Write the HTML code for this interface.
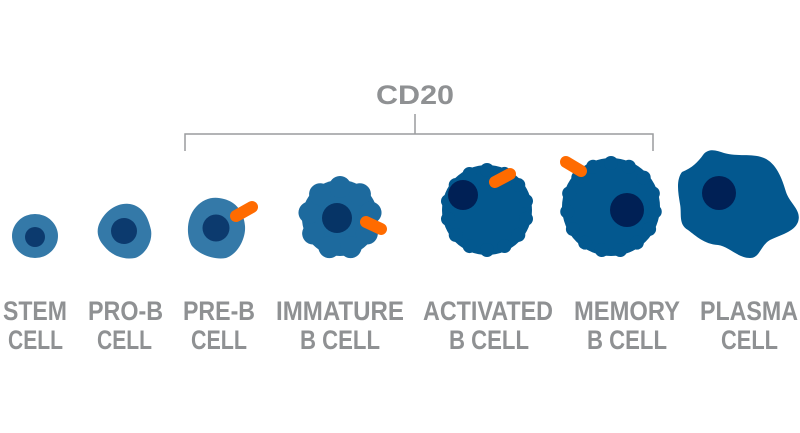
<!DOCTYPE html>
<html><head><style>html,body{margin:0;padding:0;background:#fff;width:800px;height:433px;overflow:hidden}</style></head>
<body>
<svg width="800" height="433" viewBox="0 0 800 433" xmlns="http://www.w3.org/2000/svg">
<g font-family="'Liberation Sans Narrow','Liberation Sans',sans-serif" font-weight="bold" fill="#8f9193" font-size="27">
<text x="376" y="104" textLength="78" lengthAdjust="spacingAndGlyphs">CD20</text>
<text x="3" y="320" textLength="64" lengthAdjust="spacingAndGlyphs">STEM</text>
<text x="8" y="349" textLength="55" lengthAdjust="spacingAndGlyphs">CELL</text>
<text x="88" y="320" textLength="75" lengthAdjust="spacingAndGlyphs">PRO-B</text>
<text x="97" y="349" textLength="55" lengthAdjust="spacingAndGlyphs">CELL</text>
<text x="183" y="320" textLength="72" lengthAdjust="spacingAndGlyphs">PRE-B</text>
<text x="191" y="349" textLength="56" lengthAdjust="spacingAndGlyphs">CELL</text>
<text x="276" y="320" textLength="128" lengthAdjust="spacingAndGlyphs">IMMATURE</text>
<text x="300" y="349" textLength="80" lengthAdjust="spacingAndGlyphs">B CELL</text>
<text x="423" y="320" textLength="130" lengthAdjust="spacingAndGlyphs">ACTIVATED</text>
<text x="449" y="349" textLength="80" lengthAdjust="spacingAndGlyphs">B CELL</text>
<text x="574" y="320" textLength="106" lengthAdjust="spacingAndGlyphs">MEMORY</text>
<text x="587" y="349" textLength="80" lengthAdjust="spacingAndGlyphs">B CELL</text>
<text x="700" y="320" textLength="98" lengthAdjust="spacingAndGlyphs">PLASMA</text>
<text x="721" y="349" textLength="57" lengthAdjust="spacingAndGlyphs">CELL</text>
</g>
<path d="M185,151 V134 H653 V151 M415,134 V114" fill="none" stroke="#9a9c9e" stroke-width="1.5"/>
<!-- stem -->
<ellipse cx="35" cy="236" rx="23" ry="22" fill="#3479a8"/>
<circle cx="35" cy="237" r="10" fill="#0c3a6e"/>
<!-- pro-b -->
<path d="M100,222 C106,210 118,202 130,204 C142,206 148,216 151,230 C153,242 145,255 135,258 C124,260 112,256 104,246 C97,238 96,230 100,222Z" fill="#3479a8"/>
<circle cx="124" cy="231" r="13" fill="#0c3a6e"/>
<!-- pre-b -->
<path d="M196,207 C204,198 214,196 224,199 C236,202 244,212 245,226 C246,238 238,254 226,258 C214,260 200,255 192,246 C186,236 186,218 196,207Z" fill="#3479a8"/>
<circle cx="216" cy="228" r="13.5" fill="#0c3a6e"/>
<line x1="236" y1="216" x2="252" y2="207" stroke="#ff6b00" stroke-width="12" stroke-linecap="round"/>
<!-- immature -->
<g transform="translate(340,218)" fill="#1d6a9e">
<circle r="38"/>
<g id="b1"><circle cx="0" cy="-31" r="11"/></g>
<use href="#b1" transform="rotate(40)"/><use href="#b1" transform="rotate(80)"/><use href="#b1" transform="rotate(120)"/><use href="#b1" transform="rotate(160)"/><use href="#b1" transform="rotate(200)"/><use href="#b1" transform="rotate(240)"/><use href="#b1" transform="rotate(280)"/><use href="#b1" transform="rotate(320)"/>
</g>
<circle cx="337" cy="218" r="15" fill="#063466"/>
<line x1="366" y1="222" x2="381" y2="229" stroke="#ff6b00" stroke-width="12" stroke-linecap="round"/>
<!-- activated -->
<g transform="translate(487,210)" fill="#03588f">
<circle r="45"/>
<g id="b2"><circle cx="0" cy="-40" r="7"/></g>
<use href="#b2" transform="rotate(25.7)"/><use href="#b2" transform="rotate(51.4)"/><use href="#b2" transform="rotate(77.1)"/><use href="#b2" transform="rotate(102.8)"/><use href="#b2" transform="rotate(128.5)"/><use href="#b2" transform="rotate(154.2)"/><use href="#b2" transform="rotate(180)"/><use href="#b2" transform="rotate(205.7)"/><use href="#b2" transform="rotate(231.4)"/><use href="#b2" transform="rotate(257.1)"/><use href="#b2" transform="rotate(282.8)"/><use href="#b2" transform="rotate(308.5)"/><use href="#b2" transform="rotate(334.2)"/>
</g>
<circle cx="463" cy="195" r="15" fill="#002055"/>
<line x1="495" y1="182" x2="510" y2="174" stroke="#ff6b00" stroke-width="12" stroke-linecap="round"/>
<!-- memory -->
<g transform="translate(611,207)" fill="#03588f">
<circle r="49"/>
<g id="b3"><circle cx="0" cy="-44" r="7"/></g>
<use href="#b3" transform="rotate(24)"/><use href="#b3" transform="rotate(48)"/><use href="#b3" transform="rotate(72)"/><use href="#b3" transform="rotate(96)"/><use href="#b3" transform="rotate(120)"/><use href="#b3" transform="rotate(144)"/><use href="#b3" transform="rotate(168)"/><use href="#b3" transform="rotate(192)"/><use href="#b3" transform="rotate(216)"/><use href="#b3" transform="rotate(240)"/><use href="#b3" transform="rotate(264)"/><use href="#b3" transform="rotate(288)"/><use href="#b3" transform="rotate(312)"/><use href="#b3" transform="rotate(336)"/>
</g>
<circle cx="627" cy="210" r="17" fill="#002055"/>
<line x1="566" y1="162" x2="581" y2="171" stroke="#ff6b00" stroke-width="12" stroke-linecap="round"/>
<!-- plasma -->
<path d="M682,172 C692,168 698,162 703,155 C708,148 716,150 724,153 C738,157 752,153 764,158 C776,163 782,178 786,192 C790,204 802,210 798,222 C794,232 780,235 770,240 C760,246 760,258 750,258 C738,258 728,246 718,245 C704,244 696,236 688,230 C678,224 682,214 680,204 C678,192 676,180 682,172Z" fill="#03588f"/>
<circle cx="719" cy="193" r="17" fill="#002055"/>
</svg>
</body></html>
